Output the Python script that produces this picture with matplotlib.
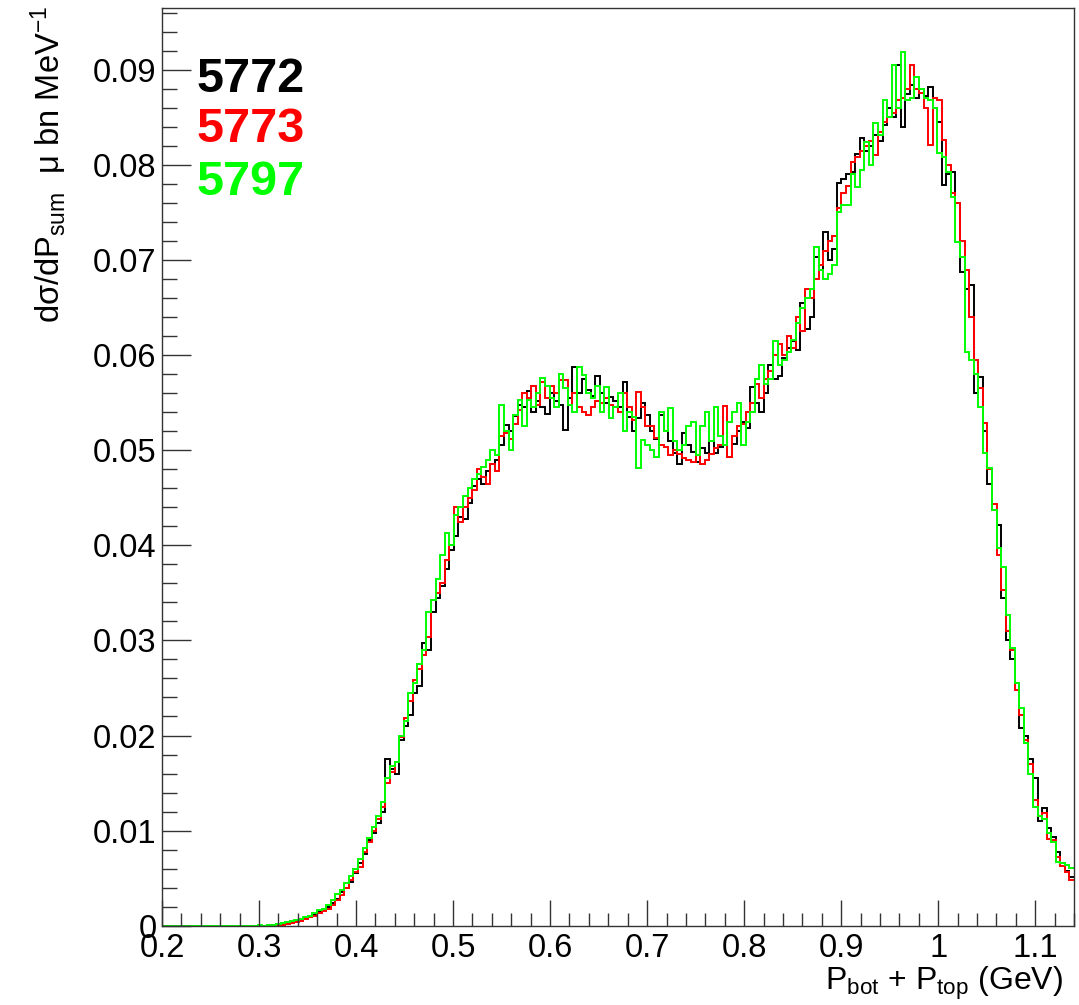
import numpy as np
import matplotlib
matplotlib.use("Agg")
import matplotlib.pyplot as plt
from matplotlib.ticker import MultipleLocator, FuncFormatter

plt.rcParams["font.family"] = ["Liberation Sans", "DejaVu Sans"]
plt.rcParams["mathtext.fontset"] = "custom"
plt.rcParams["mathtext.rm"] = "Liberation Sans"
plt.rcParams["mathtext.it"] = "Liberation Sans:italic"

# histogram binning (P_bot + P_top in GeV)
x_lo, x_hi, n_bins = 0.2, 1.14, 200

# bin contents in units of 1e-4 (micro-barn / MeV)
h5772 = [0] * 23 + [
    1, 1, 2, 2, 3, 4, 5,
    6, 8, 9, 11, 14, 16, 20, 24, 28, 35,
    40, 46, 55, 66, 75, 90, 98, 108, 120, 175,
    165, 160, 195, 210, 222, 245, 252, 297, 290, 330,
    345, 357, 375, 395, 410, 430, 428, 445, 462, 470,
    465, 478, 486, 490, 505, 527, 520, 536, 548, 545,
    562, 540, 552, 545, 538, 560, 552, 548, 521, 555,
    588, 560, 575, 563, 557, 578, 560, 550, 556, 552,
    545, 572, 535, 520, 534, 550, 537, 520, 512, 537,
    520, 510, 497, 486, 518, 505, 498, 488, 502, 497,
    510, 497, 503, 505, 493, 507, 520, 530, 523, 566,
    550, 540, 560, 590, 575, 578, 597, 608, 615, 605,
    655, 627, 640, 703, 690, 730, 700, 712, 781, 785,
    790, 793, 812, 828, 815, 820, 831, 825, 842, 860,
    850, 905, 840, 875, 884, 870, 880, 872, 882, 860,
    845, 779, 790, 793, 760, 687, 670, 674, 560, 577,
    520, 465, 437, 421, 345, 300, 280, 255, 208, 200,
    175, 155, 110, 124, 103, 93, 77, 66, 58, 51,
]

h5773 = [0] * 25 + [
    1, 1, 2, 3, 4,
    5, 7, 9, 10, 13, 15, 18, 22, 27, 32,
    40, 48, 56, 62, 78, 88, 100, 112, 125, 150,
    162, 172, 198, 218, 236, 258, 270, 285, 304, 343,
    350, 360, 385, 400, 440, 425, 440, 450, 458, 480,
    472, 465, 485, 478, 515, 518, 512, 528, 542, 560,
    555, 568, 548, 572, 555, 568, 560, 574, 574, 548,
    560, 545, 540, 537, 545, 552, 550, 555, 548, 545,
    540, 560, 545, 532, 561, 545, 525, 525, 513, 505,
    503, 495, 500, 496, 492, 490, 488, 495, 485, 490,
    496, 502, 505, 546, 493, 515, 525, 528, 540, 550,
    570, 555, 575, 583, 600, 612, 600, 620, 608, 640,
    625, 670, 660, 680, 695, 710, 720, 725, 755, 770,
    778, 803, 808, 815, 820, 825, 810, 835, 845, 850,
    855, 868, 870, 880, 905, 880, 876, 860, 821, 870,
    868, 826, 800, 770, 760, 720, 690, 640, 595, 565,
    529, 480, 443, 390, 353, 310, 290, 248, 222, 195,
    170, 132, 115, 118, 91, 90, 72, 63, 56, 48,
]

h5797 = [0] * 21 + [
    1, 0,
    1, 1, 2, 3, 4, 5, 6,
    7, 9, 10, 13, 16, 18, 22, 27, 33, 38,
    45, 52, 60, 70, 82, 92, 104, 115, 130, 155,
    168, 172, 200, 215, 245, 255, 275, 290, 330, 343,
    365, 390, 413, 400, 432, 440, 452, 460, 470, 475,
    482, 490, 500, 495, 548, 520, 500, 537, 553, 525,
    553, 545, 560, 576, 568, 555, 545, 580, 565, 548,
    540, 588, 579, 560, 555, 568, 540, 566, 534, 545,
    560, 520, 540, 535, 481, 511, 505, 500, 493, 540,
    520, 544, 510, 500, 505, 525, 530, 495, 525, 540,
    510, 545, 515, 505, 530, 540, 550, 505, 530, 540,
    575, 590, 570, 575, 615, 590, 595, 603, 616, 634,
    650, 660, 670, 714, 690, 680, 685, 695, 750, 758,
    758, 790, 777, 795, 824, 800, 844, 831, 868, 850,
    905, 860, 919, 868, 870, 893, 880, 870, 868, 860,
    813, 808, 793, 766, 719, 703, 603, 595, 580, 545,
    497, 481, 437, 397, 377, 327, 292, 255, 229, 192,
    160, 125, 115, 112, 98, 88, 67, 66, 64, 61,
]

runs = ["5772", "5773", "5797"]
colors = ["black", "#ff0000", "#00ff00"]


def main():
    edges = np.linspace(x_lo, x_hi, n_bins + 1)

    fig = plt.figure(figsize=(10.79, 10.05), dpi=100)
    ax = fig.add_axes([0.1501, 0.0789, 0.8453, 0.9131])

    for run, vals, color in zip(runs, [h5772, h5773, h5797], colors):
        ax.stairs(np.array(vals) * 1e-4, edges, color=color, lw=1.4,
                  baseline=None)

    ax.set_xlim(x_lo, x_hi)
    ax.set_ylim(0, 0.0965)

    # ROOT-like axis ticks
    ax.xaxis.set_major_locator(MultipleLocator(0.1))
    ax.xaxis.set_minor_locator(MultipleLocator(0.02))
    ax.yaxis.set_major_locator(MultipleLocator(0.01))
    ax.yaxis.set_minor_locator(MultipleLocator(0.002))
    fmt = FuncFormatter(lambda v, _: f"{v:g}")
    ax.xaxis.set_major_formatter(fmt)
    ax.yaxis.set_major_formatter(fmt)
    ax.tick_params(axis="both", which="both", direction="in",
                   top=False, right=False, labelsize=23.5, color="#333333")
    ax.tick_params(axis="x", which="major", length=19, width=1, pad=5)
    ax.tick_params(axis="x", which="minor", length=9.5, width=1)
    ax.tick_params(axis="y", which="major", length=21, width=1, pad=4)
    ax.tick_params(axis="y", which="minor", length=11, width=1)
    for s in ax.spines.values():
        s.set_color("#333333")
        s.set_linewidth(1)

    ax.set_xlabel(r"P$_{\mathrm{bot}}$ + P$_{\mathrm{top}}$ (GeV)",
                  fontsize=23, loc="right")
    ax.xaxis.set_label_coords(0.988, -0.043)
    ax.set_ylabel(r"d$\mathrm{\sigma}$/dP$_{\mathrm{sum}}$  $\mathrm{\mu}$ bn MeV$^{-1}$",
                  fontsize=23.5, loc="top")
    ax.yaxis.set_label_coords(-0.102, 1.003)

    # legend drawn as coloured run numbers
    for k, (run, color) in enumerate(zip(runs, colors)):
        ax.text(0.0384, [0.9085, 0.854, 0.796][k], run, color=color,
                fontsize=35, fontweight="bold", transform=ax.transAxes,
                va="baseline", ha="left")

    fig.savefig("out.png", dpi=100)


if __name__ == "__main__":
    main()
